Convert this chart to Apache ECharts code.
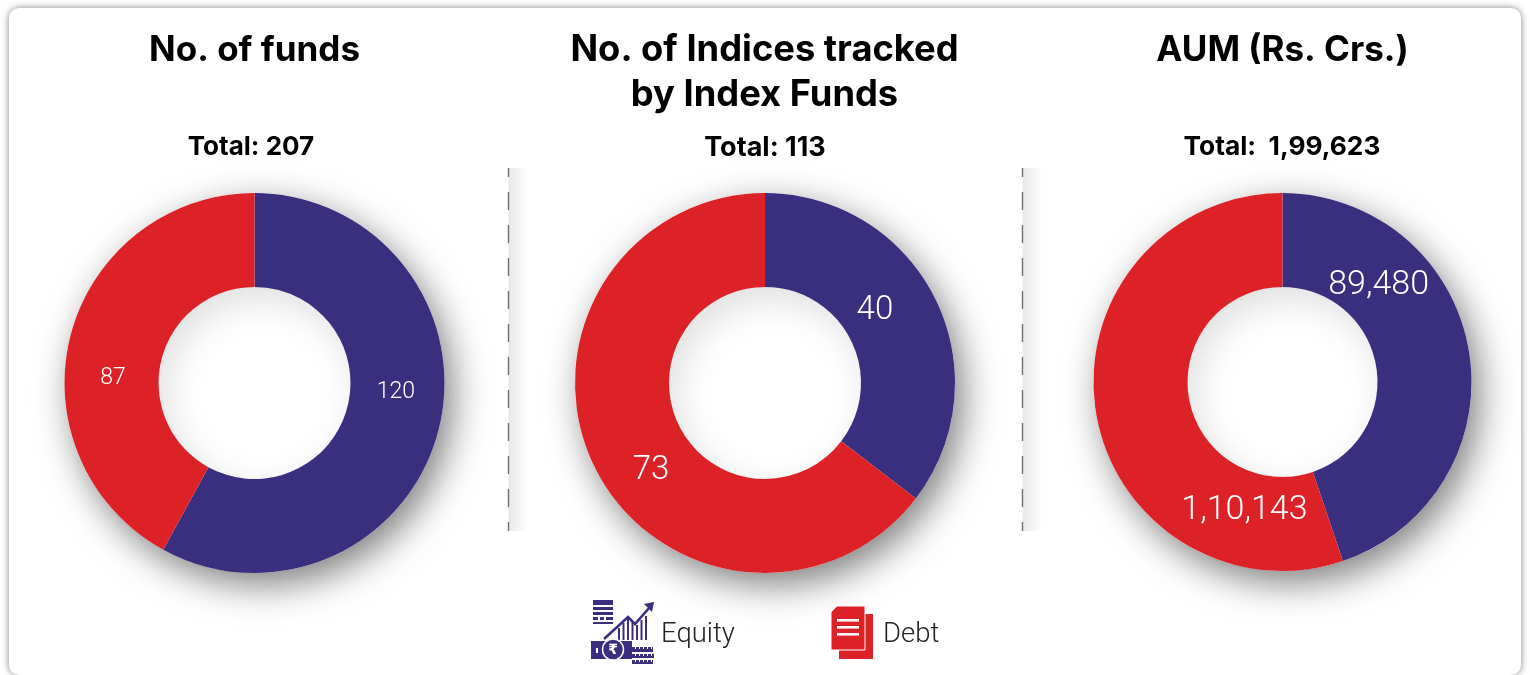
<!DOCTYPE html>
<html>
<head>
<meta charset="utf-8">
<style>
html,body{margin:0;padding:0;width:1530px;height:675px;overflow:hidden;background:#fff;}
#card{position:absolute;left:9px;top:8px;width:1512px;height:667px;background:#fff;border-radius:10px;box-shadow:0 0 7px rgba(0,0,0,.5);}
#main{position:absolute;left:0;top:0;width:1530px;height:675px;}
</style>
<script src="https://cdn.jsdelivr.net/npm/echarts@6/dist/echarts.min.js"></script>
</head>
<body>
<div id="card"></div>
<div id="main"></div>
<script>
// data
var categories = ["Equity", "Debt"];
var fundsValues = [120, 87];
var indicesValues = [40, 73];
var aumValues = [89480, 110143];
var fundsLabels = ["120", "87"];
var indicesLabels = ["40", "73"];
var aumLabels = ["89,480", "1,10,143"];
var chartTitles = ["No. of funds", "No. of Indices tracked\nby Index Funds", "AUM (Rs. Crs.)"];
var chartTotals = ["Total: 207", "Total: 113", "Total:  1,99,623"];

var BLUE = "#3a2f7f";
var RED = "#dc2127";
var HEAD_FONT = "Inter";
var LIGHT_FONT = "Roboto";

function sum(arr){
	var s = 0;
	for(var i=0;i<arr.length;i++){ s += arr[i]; }
	return s;
}

// soft shadow ring behind, a veil to lighten the hole, then the two slices on top
function donut(values, labels, cx, cy, r0, r1, fontSize, shift){
	var data = [];
	for(var i=0;i<values.length;i++){
		data.push({
			name: categories[i],
			value: values[i],
			itemStyle: {color: i==0 ? BLUE : RED},
			label: {formatter: labels[i]}
		});
	}
	return [{
		type: "pie",
		silent: true,
		center: [cx, cy],
		radius: [r0, r1],
		label: {show: false},
		labelLine: {show: false},
		data: [{value: sum(values), itemStyle: {
			color: "#fff",
			shadowColor: "rgba(0,0,0,0.5)",
			shadowBlur: 36,
			shadowOffsetX: 8,
			shadowOffsetY: 12
		}}]
	},{
		type: "pie",
		silent: true,
		center: [cx, cy],
		radius: [0, r0],
		label: {show: false},
		labelLine: {show: false},
		data: [{value: sum(values), itemStyle: {color: "rgba(255,255,255,0.75)"}}]
	},{
		type: "pie",
		silent: true,
		animation: false,
		startAngle: 90,
		clockwise: true,
		center: [cx, cy],
		radius: [r0, r1],
		itemStyle: {borderWidth: 0},
		label: {
			show: true,
			position: "inside",
			color: "#fff",
			fontFamily: LIGHT_FONT,
			fontWeight: 300,
			fontSize: fontSize
		},
		labelLine: {show: false},
		labelLayout: function(p){
			return {dx: shift[p.dataIndex][0], dy: shift[p.dataIndex][1]};
		},
		data: data
	}];
}

function headTitle(text, x, y, size){
	return {
		text: text,
		left: x,
		top: y,
		padding: 0,
		textAlign: "center",
		textStyle: {fontFamily: HEAD_FONT, fontWeight: 700, fontSize: size, lineHeight: 45, color: "#000"}
	};
}

// dashed rule with a faint shade fading out to its right
function divider(x){
	return [{
		type: "rect",
		shape: {x: x, y: 168, width: 20, height: 363},
		style: {fill: {type: "linear", x: 0, y: 0, x2: 1, y2: 0, colorStops: [
			{offset: 0, color: "rgba(0,0,0,0.09)"},
			{offset: 1, color: "rgba(0,0,0,0)"}
		]}}
	},{
		type: "line",
		shape: {x1: x, y1: 168, x2: x, y2: 531},
		style: {stroke: "#6e6e6e", lineWidth: 1.4, lineDash: [18, 15], lineDashOffset: 9}
	}];
}

function box(x, y, w, h, color){
	return {type: "rect", shape: {x: x, y: y, width: w, height: h}, style: {fill: color}};
}

function equityIcon(){
	var parts = [
		// ledger block
		box(593, 600, 20, 5, BLUE), box(593, 607, 20, 3, BLUE), box(593, 612, 20, 3, BLUE),
		box(593, 617, 5, 3, BLUE), box(600, 617, 4, 3, BLUE), box(606, 617, 7, 3, BLUE),
		box(593, 622, 20, 2, BLUE)
	];
	// bars under the rising line
	var barX = [618, 622.5, 627, 631.5, 636, 640.5, 645];
	var barTop = [628, 623, 619, 622, 625, 620, 616];
	for(var i=0;i<barX.length;i++){
		parts.push(box(barX[i], barTop[i], 2, 640 - barTop[i], BLUE));
	}
	parts.push(
		// rising line and arrow head
		{type: "polyline", shape: {points: [[604, 639], [628, 617], [635, 624], [649, 608]]}, style: {stroke: BLUE, lineWidth: 2.6, fill: null}},
		{type: "polygon", shape: {points: [[654, 602], [652, 612], [644, 604]]}, style: {fill: BLUE}},
		// banknote with the rupee coin
		box(591, 641, 41, 18, BLUE),
		box(596, 648, 2, 5, "#fff"),
		{type: "circle", shape: {cx: 613, cy: 649.5, r: 10.5}, style: {fill: BLUE, stroke: "#fff", lineWidth: 1.5}},
		{type: "text", style: {text: "₹", x: 613, y: 650, fill: "#fff", font: "bold 14px 'DejaVu Sans'", align: "center", verticalAlign: "middle"}},
		// coin stacks
		box(632, 647, 21, 5, BLUE), box(632, 654, 22, 4, BLUE), box(632, 660, 21, 4, BLUE)
	);
	var rows = [647, 654, 660];
	for(var r=0;r<rows.length;r++){
		for(var t=635;t<652;t+=4){
			parts.push(box(t, rows[r], 1, 2, "#fff"));
		}
	}
	return parts;
}

function debtIcon(){
	return [
		box(839, 614, 34, 45, RED),
		box(835, 610, 30, 4, "#fff"),
		{type: "polygon", shape: {points: [[837, 606], [865, 606], [865, 650], [831, 650], [831, 612]]}, style: {fill: RED, stroke: "#fff", lineWidth: 1}},
		box(837, 619, 22, 2.6, "#fff"),
		box(837, 626, 22, 2.6, "#fff"),
		box(837, 633, 22, 2.6, "#fff")
	];
}

var series = []
	.concat(donut(fundsValues, fundsLabels, 254.5, 383, 96, 190, 23, [[0, -27], [0, 31]]))
	.concat(donut(indicesValues, indicesLabels, 765, 383, 96, 190, 33, [[-21, -8], [17, 23]]))
	.concat(donut(aumValues, aumLabels, 1282.5, 382, 95, 189, 34, [[-47, -73], [105, 105]]));

var legendText = function(text, x){
	return {type: "text", style: {text: text, x: x, y: 635, fill: "#222", font: "300 27.5px " + LIGHT_FONT, verticalAlign: "middle"}};
};

var chart = echarts.init(document.getElementById("main"));
chart.setOption({
	animation: false,
	backgroundColor: "transparent",
	title: [
		headTitle(chartTitles[0], 254.5, 28, 35),
		headTitle(chartTitles[1], 764.5, 28, 36.3),
		headTitle(chartTitles[2], 1282.5, 28, 35),
		headTitle(chartTotals[0], 251, 125, 26),
		headTitle(chartTotals[1], 765, 125, 27),
		headTitle(chartTotals[2], 1282, 125, 26.3)
	],
	graphic: []
		.concat(divider(508.5))
		.concat(divider(1022.5))
		.concat([legendText(categories[0], 661), legendText(categories[1], 883)])
		.concat(equityIcon())
		.concat(debtIcon()),
	series: series
});
</script>
</body>
</html>
